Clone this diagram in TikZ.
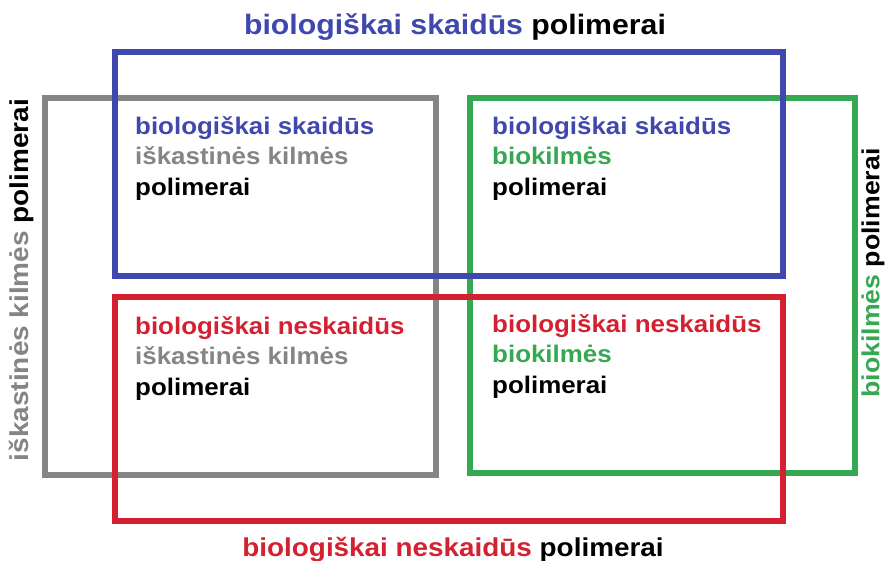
\documentclass[tikz,border=0pt]{standalone}
\usepackage{fontspec}
\setmainfont{Liberation Sans}
\newfontfamily\widefont[FakeStretch=1.08]{Liberation Sans}
\definecolor{cblue}{HTML}{4048AE}
\definecolor{cgray}{HTML}{858585}
\definecolor{cgreen}{HTML}{36A852}
\definecolor{cred}{HTML}{D42030}
\begin{document}
\begin{tikzpicture}[x=1pt,y=-1pt,
  frame/.style={line width=6pt},
  inner/.style={anchor=base west,inner sep=0pt,font=\widefont\bfseries\fontsize{24}{28}\selectfont},
  title/.style={inner sep=0pt,font=\widefont\bfseries\fontsize{#1}{#1}\selectfont}]
\useasboundingbox[fill=white] (0,0) rectangle (888,561);
% frames
\draw[frame,cgray] (45,98) rectangle (436,475);
\draw[frame,cgreen] (470,98) rectangle (855,473);
\draw[frame,cblue] (115,52) rectangle (783,276);
\draw[frame,cred] (115,297) rectangle (783,521);
% titles
\node[title=28,anchor=base] (ttop) at (455,35) {\textcolor{cblue}{biologiškai skaidūs} polimerai};
\node[title=25.8,anchor=base] (tbot) at (453,556) {\textcolor{cred}{biologiškai neskaidūs} polimerai};
\node[title=25.9,rotate=90] (tleft) at (22,280) {\textcolor{cgray}{iškastinės kilmės} polimerai};
\node[title=24.7,rotate=90] (tright) at (873,273) {\textcolor{cgreen}{biokilmės} polimerai};
% inner blocks
\node[inner,cblue] (a1) at (135,135) {biologiškai skaidūs};
\node[inner,cgray] (a2) at (135,165) {iškastinės kilmės};
\node[inner] (a3) at (135,196) {polimerai};
\node[inner,cblue] (b1) at (492,135) {biologiškai skaidūs};
\node[inner,cgreen] (b2) at (492,165) {biokilmės};
\node[inner] (b3) at (492,196) {polimerai};
\node[inner,cred] (c1) at (135,334) {biologiškai neskaidūs};
\node[inner,cgray] (c2) at (135,364) {iškastinės kilmės};
\node[inner] (c3) at (135,395) {polimerai};
\node[inner,cred] (d1) at (492,332) {biologiškai neskaidūs};
\node[inner,cgreen] (d2) at (492,362) {biokilmės};
\node[inner] (d3) at (492,393) {polimerai};
\end{tikzpicture}
\end{document}
